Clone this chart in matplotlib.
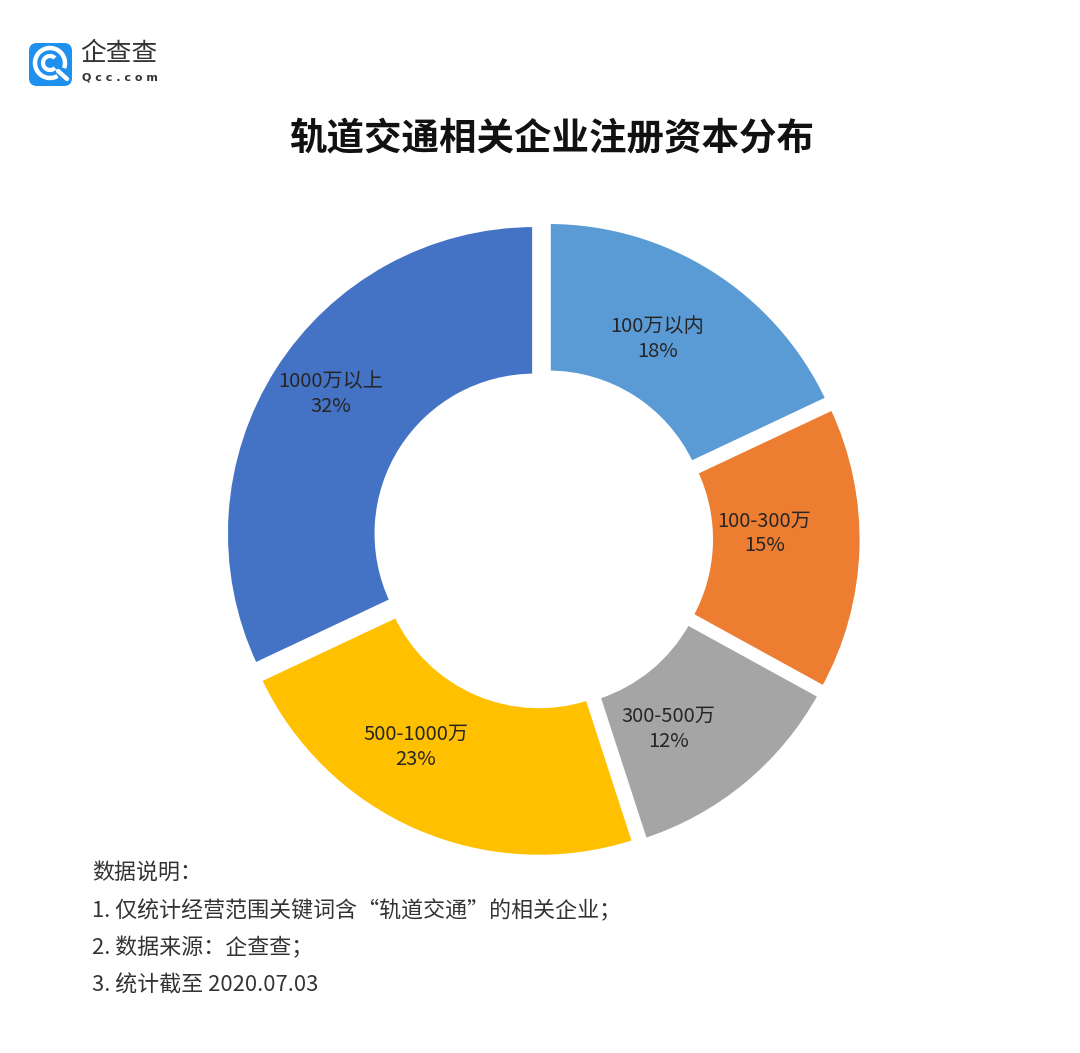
import matplotlib
matplotlib.use("Agg")
import matplotlib.pyplot as plt
from matplotlib.patches import FancyBboxPatch, Arc
from matplotlib.lines import Line2D

plt.rcParams["font.family"] = ["Noto Sans CJK SC", "DejaVu Sans"]

W, H = 1080, 1053

title = "轨道交通相关企业注册资本分布"
categories = ["100万以内", "100-300万", "300-500万", "500-1000万", "1000万以上"]
shares = [18, 15, 12, 23, 32]
colors = ["#5B9BD5", "#ED7D31", "#A5A5A5", "#FFC000", "#4472C4"]
notes = [
    "数据说明：",
    "1. 仅统计经营范围关键词含“轨道交通”的相关企业；",
    "2. 数据来源：企查查；",
    "3. 统计截至 2020.07.03",
]
# small pixel nudges for the data labels, the way the original tool placed them
label_nudge = [(-12, 1), (-14, 13), (-25, -8), (-34, 8), (-13, 19)]


def Y(y):
    # image coordinates (top-down) -> data coordinates
    return H - y


fig = plt.figure(figsize=(W / 100, H / 100), dpi=100)
ax = fig.add_axes([0, 0, 1, 1])

R = 309
names = iter(categories)
wedges, texts, autotexts = ax.pie(
    shares,
    colors=colors,
    startangle=90,
    counterclock=False,
    center=(543, Y(539)),
    radius=R,
    explode=[10] * len(shares),
    wedgeprops=dict(width=R * 0.49, edgecolor="white", linewidth=3.5),
    autopct=lambda p: f"{next(names)}\n{p:.0f}%",
    pctdistance=0.73,
    textprops=dict(fontsize=14.5, color="#262626", linespacing=1.25, fontweight="light"),
)
for t, (dx, dy) in zip(autotexts, label_nudge):
    x, y = t.get_position()
    t.set_position((x + dx, y + dy))

ax.set_xlim(0, W)
ax.set_ylim(0, H)
ax.set_aspect("equal")
ax.axis("off")

ax.text(552, Y(139), title, ha="center", va="center", fontsize=27,
        fontweight="bold", color="#111111")

# logo
ax.add_patch(FancyBboxPatch((29, Y(86)), 43, 43,
                            boxstyle="round,pad=0,rounding_size=8",
                            fc="#1E90EE", ec="none"))
ax.add_patch(Arc((50, Y(63)), 30, 30, theta1=-20, theta2=300, color="white", lw=3.2))
ax.add_patch(Arc((50, Y(63)), 14, 14, theta1=45, theta2=315, color="white", lw=3))
ax.add_line(Line2D([58, 67], [Y(71), Y(79)], color="white", lw=3.2, solid_capstyle="round"))
ax.text(80, Y(54), "企查查", ha="left", va="center", fontsize=18.5, color="#333333",
        fontweight="light")
ax.text(82, Y(78), "Q c c . c o m", ha="left", va="center", fontsize=8,
        fontweight="bold", color="#333333", family="DejaVu Sans")

for i, line in enumerate(notes):
    ax.text(92, Y(873 + i * 37.5), line, ha="left", va="center",
            fontsize=15.8, color="#333333", fontweight="light")

plt.savefig("out.png", dpi=100)
